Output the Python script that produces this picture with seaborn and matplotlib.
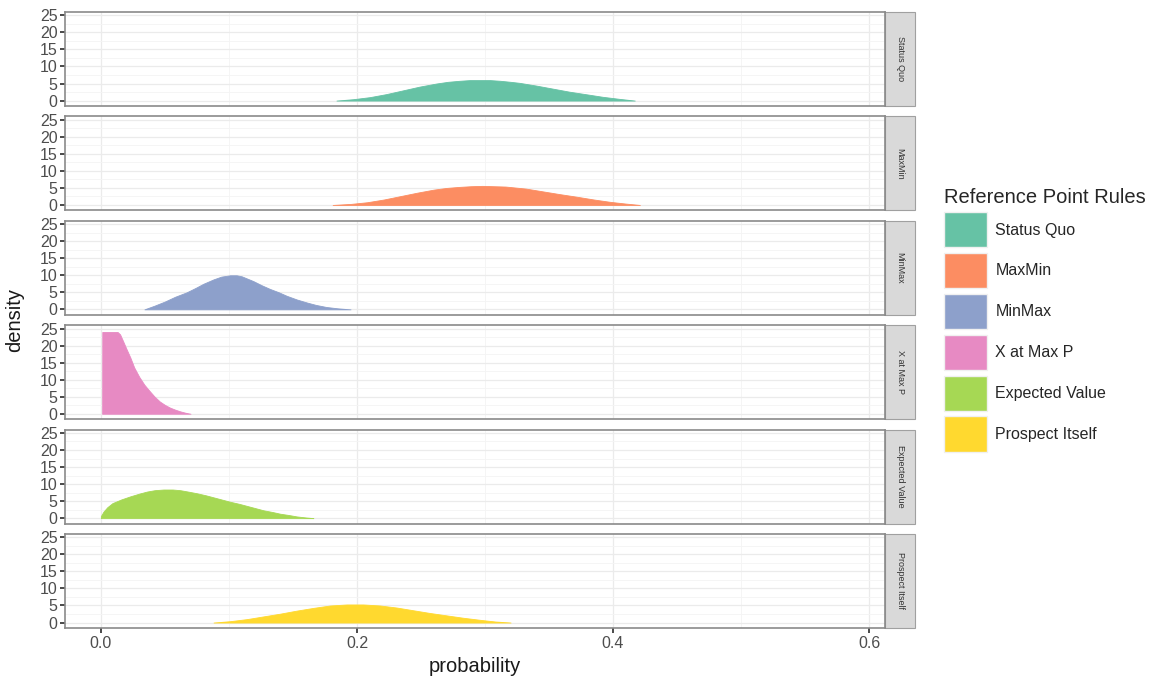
import matplotlib
matplotlib.use('Agg')
import matplotlib.pyplot as plt
from matplotlib.patches import Rectangle, Patch
from matplotlib.ticker import MultipleLocator
import seaborn as sns
import pandas as pd

rules = ['Status Quo', 'MaxMin', 'MinMax', 'X at Max P', 'Expected Value', 'Prospect Itself']

# density curves (probability, density)
status_quo_x = [0.184, 0.197, 0.210, 0.223, 0.236, 0.249, 0.262, 0.271, 0.280, 0.288, 0.296,
                0.304, 0.312, 0.320, 0.327, 0.340, 0.353, 0.366, 0.380, 0.392, 0.405, 0.417]
status_quo_d = [0.0, 0.4, 1.0, 1.9, 3.0, 4.1, 5.0, 5.5, 5.8, 6.0, 6.0,
                6.0, 5.8, 5.5, 5.2, 4.4, 3.5, 2.6, 1.8, 1.1, 0.5, 0.0]

maxmin_x = [0.181, 0.195, 0.208, 0.221, 0.234, 0.247, 0.260, 0.270, 0.280, 0.289, 0.298,
            0.307, 0.316, 0.324, 0.332, 0.345, 0.358, 0.372, 0.385, 0.398, 0.410, 0.421]
maxmin_d = [0.0, 0.3, 0.8, 1.6, 2.6, 3.6, 4.5, 5.0, 5.3, 5.5, 5.6,
            5.5, 5.4, 5.1, 4.8, 4.0, 3.2, 2.4, 1.6, 0.9, 0.4, 0.0]

minmax_x = [0.034, 0.042, 0.050, 0.058, 0.067, 0.074, 0.080, 0.088, 0.094, 0.101, 0.106,
            0.110, 0.119, 0.126, 0.132, 0.139, 0.145, 0.153, 0.161, 0.168, 0.176, 0.185, 0.195]
minmax_d = [0.0, 1.1, 2.3, 3.7, 5.0, 6.3, 7.5, 8.8, 9.6, 10.0, 10.0,
            9.7, 8.3, 7.0, 6.0, 5.0, 4.0, 2.9, 2.0, 1.3, 0.7, 0.3, 0.0]

xmaxp_x = [0.001, 0.0011, 0.013, 0.015, 0.017, 0.020, 0.023, 0.026, 0.030, 0.034, 0.038,
           0.042, 0.046, 0.050, 0.054, 0.058, 0.062, 0.066, 0.070]
xmaxp_d = [0.0, 24.0, 24.0, 23.3, 21.6, 19.0, 16.5, 13.6, 10.8, 8.5, 6.7,
           5.0, 3.6, 2.6, 1.8, 1.2, 0.7, 0.3, 0.0]

expected_x = [0.000, 0.002, 0.005, 0.009, 0.016, 0.023, 0.030, 0.036, 0.042, 0.049, 0.056,
              0.062, 0.068, 0.075, 0.082, 0.088, 0.095, 0.101, 0.108, 0.114, 0.121,
              0.127, 0.134, 0.140, 0.147, 0.153, 0.160, 0.166]
expected_d = [0.6, 1.9, 3.2, 4.4, 5.5, 6.4, 7.2, 7.8, 8.2, 8.4, 8.4,
              8.2, 7.8, 7.3, 6.7, 6.1, 5.4, 4.8, 4.2, 3.6, 2.9,
              2.3, 1.8, 1.3, 0.9, 0.5, 0.2, 0.0]

prospect_x = [0.088, 0.101, 0.114, 0.127, 0.140, 0.153, 0.166, 0.179, 0.192, 0.205, 0.218,
              0.231, 0.244, 0.257, 0.270, 0.283, 0.296, 0.308, 0.320]
prospect_d = [0.0, 0.4, 1.0, 1.8, 2.6, 3.5, 4.3, 5.0, 5.3, 5.3, 5.0,
              4.4, 3.6, 2.8, 2.1, 1.4, 0.8, 0.3, 0.0]

xs_all = [status_quo_x, maxmin_x, minmax_x, xmaxp_x, expected_x, prospect_x]
ds_all = [status_quo_d, maxmin_d, minmax_d, xmaxp_d, expected_d, prospect_d]

frames = []
for rule, xs, ds in zip(rules, xs_all, ds_all):
    frames.append(pd.DataFrame({'rule': rule, 'probability': xs, 'density': ds}))
df = pd.concat(frames, ignore_index=True)

sns.set_theme(style='whitegrid', rc={
    'grid.color': '#ebebeb',
    'grid.linewidth': 0.9,
    'axes.edgecolor': '#8a8a8a',
    'axes.linewidth': 1.2,
    'xtick.bottom': True,
    'ytick.left': True,
    'xtick.major.size': 3.5,
    'ytick.major.size': 3.5,
    'xtick.minor.size': 0,
    'ytick.minor.size': 0,
    'xtick.color': '#333333',
    'ytick.color': '#333333',
    'xtick.labelcolor': '#4d4d4d',
    'ytick.labelcolor': '#4d4d4d',
    'xtick.major.pad': 2,
    'ytick.major.pad': 2,
})
plt.rcParams['font.family'] = ['Liberation Sans', 'DejaVu Sans']

palette = dict(zip(rules, sns.color_palette('Set2', 6)))


def area(x, y, color=None, label=None, **kws):
    plt.gca().fill_between(x, 0, y, color=color, lw=0.6, edgecolor=color, label=label)


g = sns.FacetGrid(df, row='rule', row_order=rules, hue='rule', hue_order=rules,
                  palette=palette, sharex=True, sharey=True, height=1.0, aspect=7,
                  despine=False)
g.map(area, 'probability', 'density')

fig = g.figure
fig.set_size_inches(11.76, 6.84)
fig.subplots_adjust(left=0.0553, right=0.7526, top=0.9825, bottom=0.0819, hspace=0.11)

axes = g.axes.flatten()
strip_w = 30 / 820
for i, (ax, rule) in enumerate(zip(axes, rules)):
    ax.set_title('')
    ax.set_xlabel('')
    ax.set_ylabel('')
    ax.set_xlim(-0.028, 0.6125)
    ax.set_ylim(-1.6, 26.0)
    ax.set_xticks([0.0, 0.2, 0.4, 0.6])
    ax.set_yticks([0, 5, 10, 15, 20, 25])
    ax.xaxis.set_minor_locator(MultipleLocator(0.1))
    ax.yaxis.set_minor_locator(MultipleLocator(2.5))
    ax.grid(which='major', color='#ebebeb', lw=0.9)
    ax.grid(which='minor', color='#f4f4f4', lw=0.6)
    ax.set_axisbelow(True)
    ax.tick_params(axis='y', labelsize=11.5)
    ax.tick_params(axis='x', labelsize=11.5)
    if i < len(rules) - 1:
        ax.tick_params(axis='x', length=0)
    ax.add_patch(Rectangle((1.0, 0), strip_w, 1, transform=ax.transAxes,
                           facecolor='#d9d9d9', edgecolor='#a0a0a0', lw=0.8,
                           clip_on=False))
    ax.text(1.0 + strip_w / 2, 0.5, rule, transform=ax.transAxes, rotation=-90,
            ha='center', va='center', fontsize=6.5, color='#333333')

fig.text(0.0553 + (0.7526 - 0.0553) / 2, 0.012, 'probability', ha='center', va='bottom',
         fontsize=14.5, color='#1a1a1a')
fig.text(0.004, (0.9825 + 0.0819) / 2, 'density', ha='left', va='center', rotation=90,
         fontsize=14.5, color='#1a1a1a')

handles = [Patch(facecolor=palette[r], edgecolor='#f0f0f0', lw=1) for r in rules]
leg = fig.legend(handles=handles, labels=rules, title='Reference Point Rules',
                 loc='upper left', bbox_to_anchor=(0.7975, 0.735), frameon=False,
                 fontsize=11.5, title_fontsize=14.5, handlelength=2.7, handleheight=3.0,
                 labelspacing=0.36, handletextpad=0.5, borderaxespad=0,
                 alignment='left')

fig.savefig('out.png', dpi=100)
